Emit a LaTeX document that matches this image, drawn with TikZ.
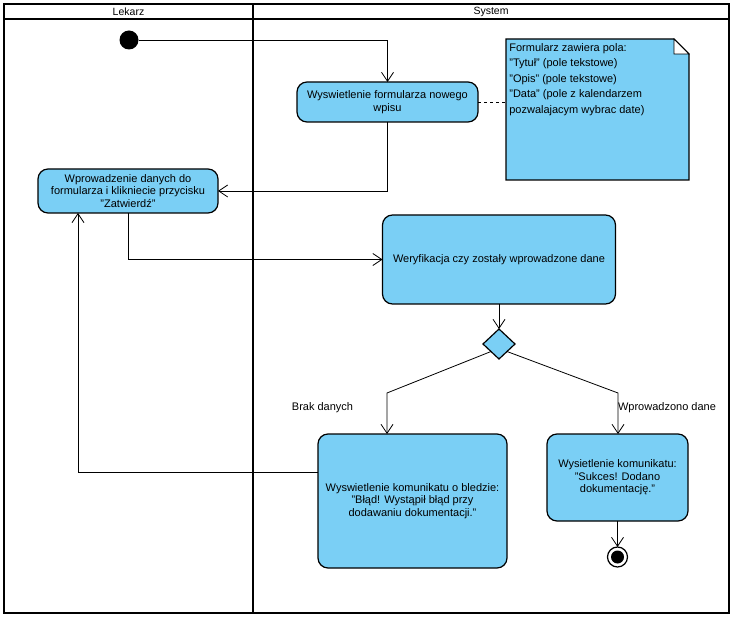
\documentclass[tikz,border=0pt]{standalone}
\usepackage{fontspec}
\setmainfont{Liberation Sans}
\usepackage{tikz}
\usetikzlibrary{calc,shapes.geometric,arrows.meta}
\definecolor{vpblue}{RGB}{122,207,245}

\begin{document}
\begin{tikzpicture}[x=1pt,y=-1pt,every node/.style={outer sep=0pt,font=\fontsize{11}{12.5}\selectfont}]
\tikzstyle{action}=[draw,line width=1.2pt,fill=vpblue,rounded corners=10pt,align=center]
\tikzstyle{flow}=[line width=0.8pt,-{Straight Barb[length=9pt,width=12pt]}]
\tikzstyle{lane}=[line width=1.8pt]

\useasboundingbox (0,0) rectangle (734,620);

% swimlanes
\draw [lane] (4,4) rectangle (729,613);
\draw [line width=1.2pt] (4,19) -- (729,19);
\draw [lane,line width=2.2pt] (253,4) -- (253,613);
\node (lekarz) at (128.5,11.5) [font=\fontsize{10.5}{12}\selectfont] {Lekarz};
\node (system) at (491,11.5) [font=\fontsize{10.5}{12}\selectfont] {System};

\node (start) at (129,40) [circle,fill=black,minimum size=19,inner sep=0pt] {};

\node (wysw) at (387.5,102) [action,minimum width=181,minimum height=40]
   {Wyswietlenie formularza nowego\\wpisu};

% note
\node (uwaga) at (597.5,109.5) [minimum width=183,minimum height=141] {};
\draw [line width=1.2pt,fill=vpblue] (uwaga.north west) -- ($(uwaga.north east)+(-15,0)$)
   -- ($(uwaga.north east)+(0,15)$) -- (uwaga.south east) -- (uwaga.south west) -- cycle;
\draw [line width=0.8pt,fill=white] ($(uwaga.north east)+(-15,0)$) -- ($(uwaga.north east)+(-15,15)$)
   -- ($(uwaga.north east)+(0,15)$) -- cycle;
\node (uwagatxt) at ([yshift=-1pt]uwaga.north west) [anchor=north west,align=left,font=\fontsize{11}{15.5}\selectfont]
   {Formularz zawiera pola:\\"Tytuł" (pole tekstowe)\\"Opis" (pole tekstowe)\\"Data" (pole z kalendarzem\\pozwalajacym wybrac date)};
\draw [dashed,line width=0.8pt] (wysw.east) -- (wysw.east -| uwaga.west);

\node (wprow) at (128,191) [action,minimum width=180,minimum height=44]
   {Wprowadzenie danych do\\formularza i klikniecie przycisku\\"Zatwierdź"};

\node (weryf) at (499,259.5) [action,minimum width=233,minimum height=89]
   {Weryfikacja czy zostały wprowadzone dane};

\node (dec) at (499,344) [diamond,draw,line width=1.2pt,fill=vpblue,minimum width=32,minimum height=30,inner sep=0pt] {};

\node (blad) at (412.5,501) [action,minimum width=189,minimum height=134]
   {Wyswietlenie komunikatu o bledzie:\\"Błąd! Wystąpił błąd przy\\dodawaniu dokumentacji."};

\node (sukces) at (617.5,477.5) [action,minimum width=141,minimum height=87]
   {Wysietlenie komunikatu:\\"Sukces! Dodano\\dokumentację."};

\node (koniec) at (617.5,557) [circle,draw,line width=1.2pt,fill=white,minimum size=20,inner sep=0pt] {};
\node (koniecin) at (koniec) [circle,fill=black,minimum size=13,inner sep=0pt] {};

\node (brak) at (322.5,408) {Brak danych};
\node (wprowadzono) at (667,408) {Wprowadzono dane};

\coordinate (zgiecieL) at (387,393);
\coordinate (zgiecieP) at (618,393);

\draw [flow] (start) -| (wysw);
\draw [flow] (wysw) |- (wprow);
\draw [flow] (wprow) |- (weryf);
\draw [flow] (weryf) -- (dec);
\draw [flow] (dec.south west) -- (zgiecieL) -- (zgiecieL |- blad.north);
\draw [flow] (dec.south east) -- (zgiecieP) -- (zgiecieP |- sukces.north);
\draw [flow] ([yshift=29pt]blad.west) -| ([xshift=-50pt]wprow.south);
\draw [flow] (sukces) -- (koniec);

\end{tikzpicture}
\end{document}
